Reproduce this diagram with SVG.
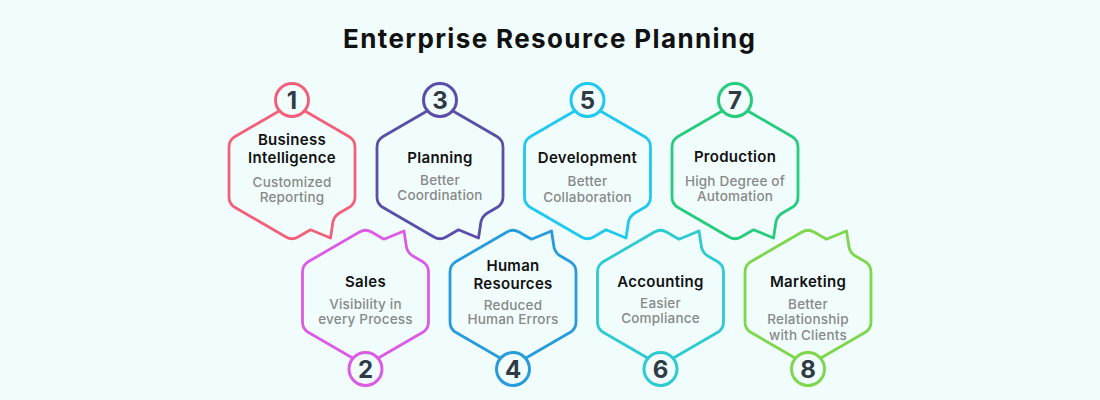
<svg xmlns="http://www.w3.org/2000/svg" width="1100" height="400" viewBox="0 0 1100 400">
<style>
.bg{fill:#F1FDFD}
.hex{fill:none;stroke-width:2.8;stroke-linejoin:round;stroke-linecap:round}
.num{fill:#F1FDFD;stroke-width:3}
.digit{font-family:Inter,"Liberation Sans",sans-serif;font-weight:700;font-size:24px;fill:#2E3A44;text-anchor:middle}
.title{font-family:Inter,"Liberation Sans",sans-serif;font-weight:700;font-size:26px;fill:#111;text-anchor:middle}
.h{font-family:Inter,"Liberation Sans",sans-serif;font-weight:600;font-size:15px;fill:#111;text-anchor:middle;letter-spacing:0.3px}
.s{font-family:Inter,"Liberation Sans",sans-serif;font-weight:500;font-size:13.5px;fill:#888888;text-anchor:middle;letter-spacing:0.2px}
</style>
<defs>
<path id="hx" d="M6,107 L56.9,136.5 Q63,140 63,147 L63,197 Q63,204 56.9,207.5 L47,213.3 Q41,217 40.5,225 L38.5,238 L18.5,229.8 L6,237 Q0,240.5 -6,237 L-56.9,207.5 Q-63,204 -63,197 L-63,147 Q-63,140 -56.9,136.5 L-6,107 Q0,103.5 6,107 Z"/>
</defs>
<rect class="bg" x="0" y="0" width="1100" height="400"/>
<text class="title" x="549" y="48" textLength="412" lengthAdjust="spacing">Enterprise Resource Planning</text>

<g id="node1">
<use href="#hx" class="hex" stroke="#F2607A" transform="translate(292,0)"/>
<circle class="num" stroke="#F2607A" cx="292" cy="100" r="16.5"/>
<text class="digit" x="292" y="108.5">1</text>
<text class="h" x="292" y="145">Business</text>
<text class="h" x="292" y="163">Intelligence</text>
<text class="s" x="292" y="187">Customized</text>
<text class="s" x="292" y="202">Reporting</text>
</g>

<g id="node2">
<use href="#hx" class="hex" stroke="#DB5BE4" transform="translate(365.5,469) scale(1,-1)"/>
<circle class="num" stroke="#DB5BE4" cx="365.5" cy="369" r="16.5"/>
<text class="digit" x="365.5" y="377.5">2</text>
<text class="h" x="365.5" y="287">Sales</text>
<text class="s" x="365.5" y="308.5">Visibility in</text>
<text class="s" x="365.5" y="323.5">every Process</text>
</g>

<g id="node3">
<use href="#hx" class="hex" stroke="#5A4EA8" transform="translate(440,0)"/>
<circle class="num" stroke="#5A4EA8" cx="440" cy="100" r="16.5"/>
<text class="digit" x="440" y="108.5">3</text>
<text class="h" x="440" y="163">Planning</text>
<text class="s" x="440" y="185">Better</text>
<text class="s" x="440" y="200">Coordination</text>
</g>

<g id="node4">
<use href="#hx" class="hex" stroke="#279BDB" transform="translate(513,469) scale(1,-1)"/>
<circle class="num" stroke="#279BDB" cx="513" cy="369" r="16.5"/>
<text class="digit" x="513" y="377.5">4</text>
<text class="h" x="513" y="271">Human</text>
<text class="h" x="513" y="288.5">Resources</text>
<text class="s" x="513" y="309.5">Reduced</text>
<text class="s" x="513" y="324">Human Errors</text>
</g>

<g id="node5">
<use href="#hx" class="hex" stroke="#1FC8EE" transform="translate(587.5,0)"/>
<circle class="num" stroke="#1FC8EE" cx="587.5" cy="100" r="16.5"/>
<text class="digit" x="587.5" y="108.5">5</text>
<text class="h" x="587.5" y="163">Development</text>
<text class="s" x="587.5" y="186">Better</text>
<text class="s" x="587.5" y="201.5">Collaboration</text>
</g>

<g id="node6">
<use href="#hx" class="hex" stroke="#2CCBD0" transform="translate(660.5,469) scale(1,-1)"/>
<circle class="num" stroke="#2CCBD0" cx="660.5" cy="369" r="16.5"/>
<text class="digit" x="660.5" y="377.5">6</text>
<text class="h" x="660.5" y="287">Accounting</text>
<text class="s" x="660.5" y="308">Easier</text>
<text class="s" x="660.5" y="323">Compliance</text>
</g>

<g id="node7">
<use href="#hx" class="hex" stroke="#25CC7C" transform="translate(735,0)"/>
<circle class="num" stroke="#25CC7C" cx="735" cy="100" r="16.5"/>
<text class="digit" x="735" y="108.5">7</text>
<text class="h" x="735" y="162">Production</text>
<text class="s" x="735" y="186">High Degree of</text>
<text class="s" x="735" y="201">Automation</text>
</g>

<g id="node8">
<use href="#hx" class="hex" stroke="#7DD64B" transform="translate(808,469) scale(1,-1)"/>
<circle class="num" stroke="#7DD64B" cx="808" cy="369" r="16.5"/>
<text class="digit" x="808" y="377.5">8</text>
<text class="h" x="808" y="287">Marketing</text>
<text class="s" x="808" y="308.5">Better</text>
<text class="s" x="808" y="323.5">Relationship</text>
<text class="s" x="808" y="339.5">with Clients</text>
</g>

<g id="connectors"></g>
</svg>
